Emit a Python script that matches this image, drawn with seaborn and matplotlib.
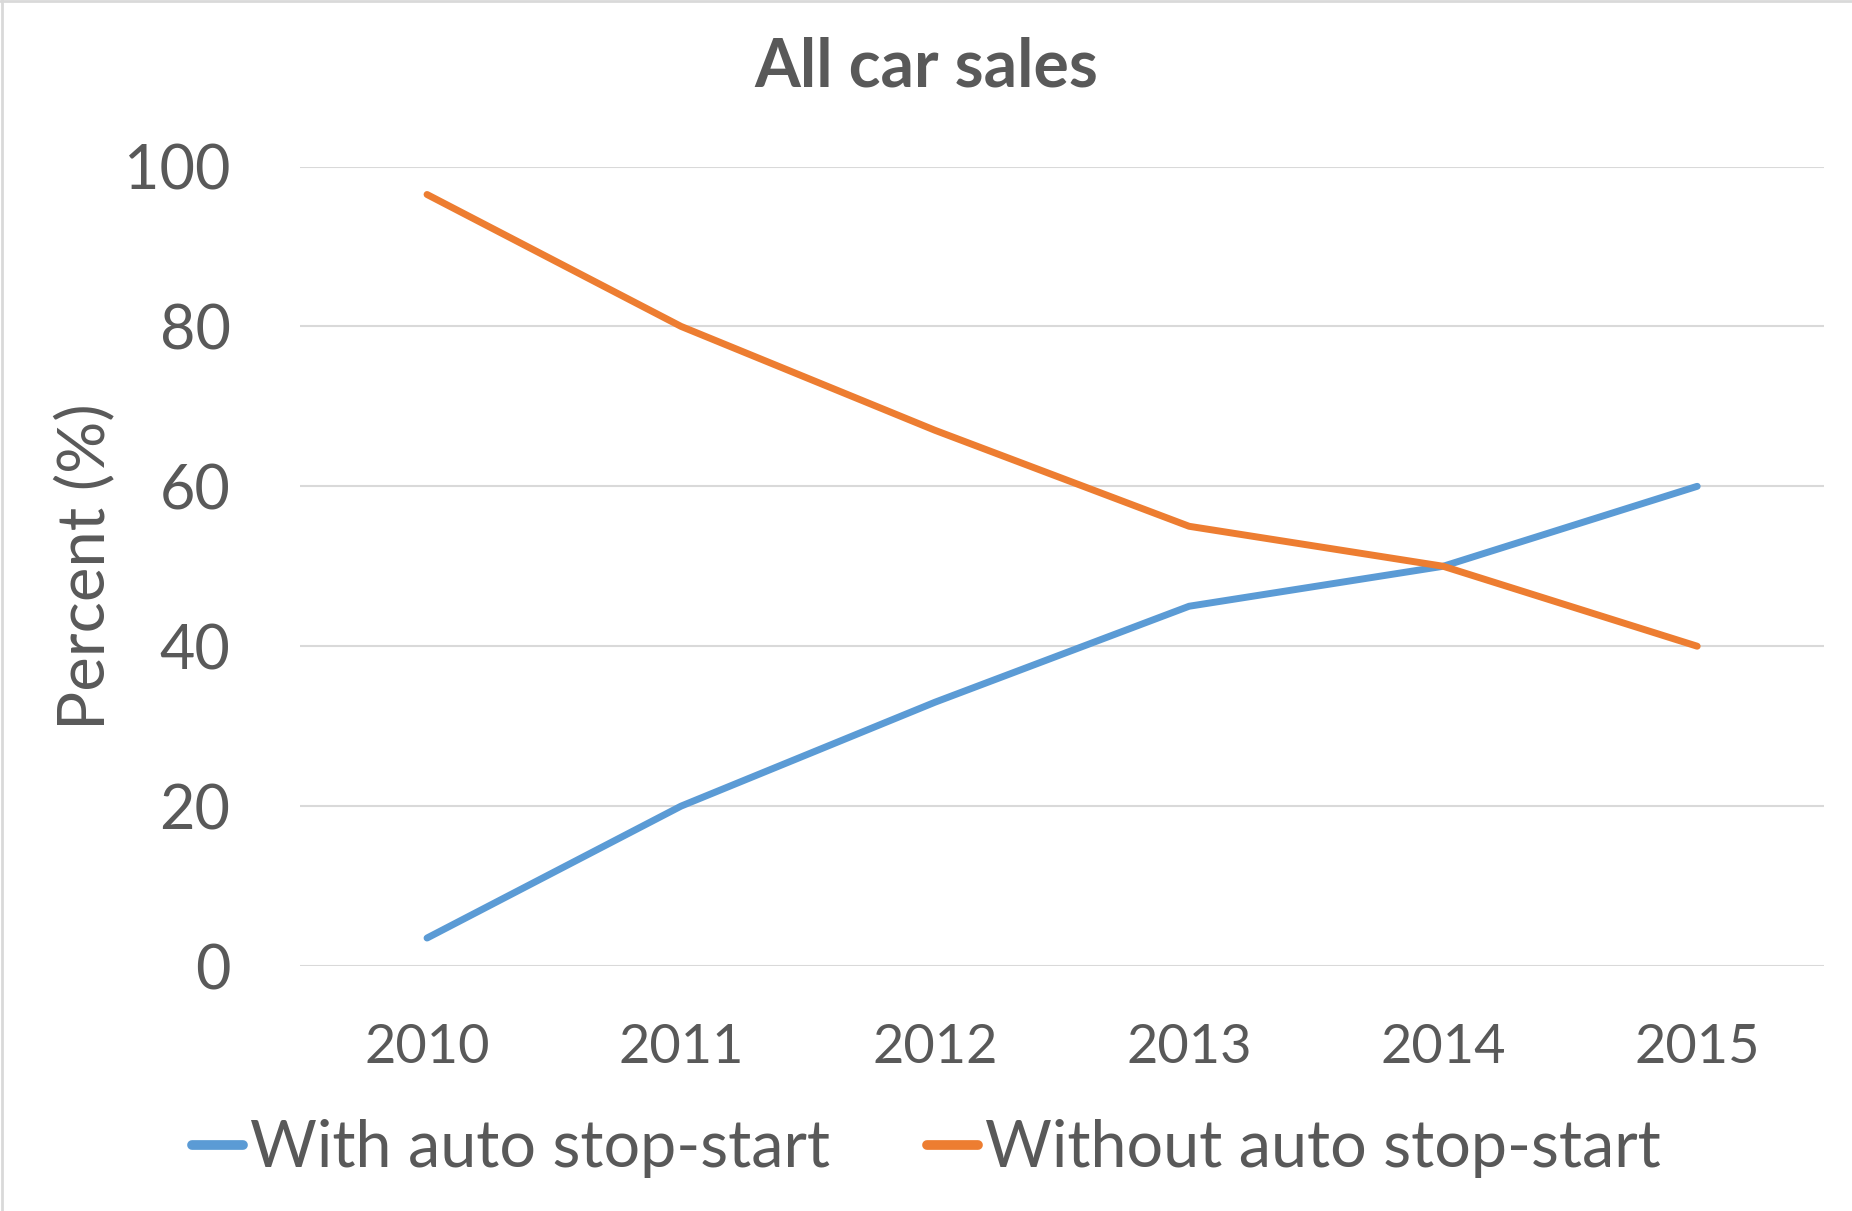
import pandas as pd
import matplotlib.pyplot as plt
import seaborn as sns
from matplotlib.lines import Line2D

# Chart data (percent of all car sales)
years = ["2010", "2011", "2012", "2013", "2014", "2015"]
with_ss = [3.5, 20, 33, 45, 50, 60]
without_ss = [96.5, 80, 67, 55, 50, 40]
series_names = ["With auto stop-start", "Without auto stop-start"]
y_ticks = [0, 20, 40, 60, 80, 100]

df = pd.DataFrame({
    "Year": years * 2,
    "Percent": with_ss + without_ss,
    "Series": [series_names[0]] * len(years) + [series_names[1]] * len(years),
})

sns.set_style("white")
plt.rcParams['font.family'] = ['Lato', 'DejaVu Sans']
text_color = "#595959"
grid_color = "#d9d9d9"

fig = plt.figure(figsize=(18.52, 12.11), dpi=100)
ax = fig.add_axes([0.162, 0.2023, 0.823, 0.6602])

sns.lineplot(data=df, x="Year", y="Percent", hue="Series", sort=False,
             palette=["#5B9BD5", "#ED7D31"], linewidth=5, ax=ax, legend=False)

# Axis limits and grid
ax.set_xlim(-0.5, len(years) - 0.5)
ax.set_ylim(0, 100)
ax.set_yticks(y_ticks)
ax.yaxis.grid(True, color=grid_color, linewidth=1.5)
ax.set_axisbelow(True)
for side in ["top", "right", "left", "bottom"]:
    ax.spines[side].set_visible(False)

ax.tick_params(axis="y", labelsize=44, colors=text_color, length=0, pad=50)
ax.tick_params(axis="x", labelsize=39, colors=text_color, length=0, pad=41)
ax.set_xlabel("")
ax.set_ylabel("Percent (%)", fontsize=47, color=text_color)
ax.yaxis.set_label_coords(-0.121, 0.5)

fig.suptitle("All car sales", x=0.5, y=0.944, va="center", fontsize=47.5,
             fontweight="bold", color=text_color)

# Legend below the plot
handles = [Line2D([], [], color="#5B9BD5", linewidth=7),
           Line2D([], [], color="#ED7D31", linewidth=7)]
leg = fig.legend(handles, series_names, loc="center", bbox_to_anchor=(0.5, 0.0515),
                 ncol=2, frameon=False, fontsize=46.5, handlelength=0.8,
                 handletextpad=0.1, columnspacing=1.5)
for t in leg.get_texts():
    t.set_color(text_color)

# Light border along top and left edges
fig.add_artist(Line2D([0, 1], [0.999, 0.999], transform=fig.transFigure, color=grid_color, linewidth=2))
fig.add_artist(Line2D([0.001, 0.001], [0, 1], transform=fig.transFigure, color=grid_color, linewidth=2))

plt.savefig("out.png", dpi=100)
